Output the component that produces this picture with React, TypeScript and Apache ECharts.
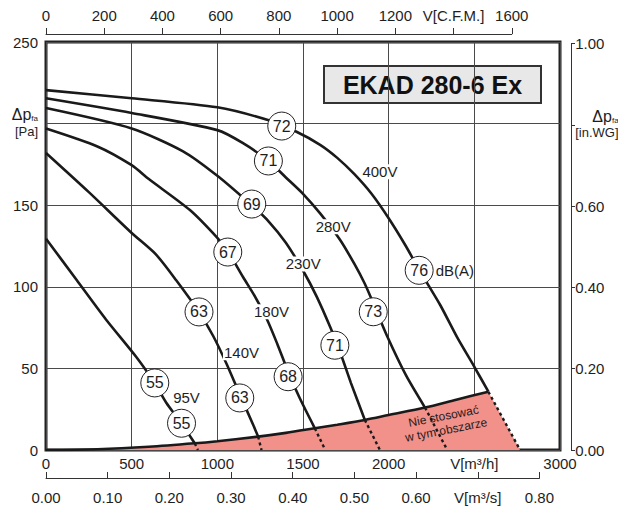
import React, { useEffect, useRef } from 'react';
import * as echarts from 'echarts';

// ---- Data (flow V in m3/h, pressure dp in Pa) ----
const curve400V = [[0, 220.5], [500, 215.5], [1000, 210], [1300, 202], [1462, 195], [1600, 187], [1700, 179], [1800, 169], [1900, 157], [2000, 142], [2100, 125], [2180, 110], [2300, 89], [2400, 69], [2500, 51], [2582, 35.7]];
const curve280V = [[0, 215.5], [500, 206.5], [1000, 196], [1150, 188], [1300, 177], [1400, 167], [1500, 157], [1600, 145], [1715, 129], [1800, 114], [1860, 102], [1910, 90], [1990, 70], [2100, 46], [2212, 26]];
const curve230V = [[0, 209.5], [500, 197], [800, 183], [1000, 168], [1200, 150], [1300, 140], [1400, 127], [1500, 110], [1580, 94], [1660, 75], [1720, 59], [1780, 41], [1861, 18.4]];
const curve180V = [[0, 197], [300, 186], [500, 174.5], [600, 166], [840, 147], [1000, 130], [1060, 122], [1150, 106], [1220, 94], [1290, 80], [1350, 65], [1413, 48], [1480, 32], [1569, 13.3]];
const curve140V = [[0, 182], [250, 158], [500, 133], [640, 120], [760, 104], [890, 85], [975, 70], [1053, 53], [1131, 34], [1209, 15.5], [1238, 8.2]];
const curve95V = [[0, 129.5], [180, 104], [350, 80], [527, 57], [634, 41], [702, 29], [790, 16.4], [868, 4.1]];

// dotted continuations (from limit curve down to zero pressure)
const dash400V = [[2582, 35.7], [2767, 0]];
const dash280V = [[2212, 26], [2342, 0]];
const dash230V = [[1861, 18.4], [1949, 0]];
const dash180V = [[1569, 13.3], [1630, 0]];
const dash140V = [[1238, 8.2], [1258, 0]];
const dash95V = [[868, 4.1], [887, 0]];

// limit curve ("do not use" region boundary)
const limitCurve = [[0, 0], [300, 0.5], [600, 2], [868, 4.1], [1000, 5.4], [1238, 8.2], [1400, 10.5], [1569, 13.3], [1700, 15.5], [1861, 18.4], [2000, 21.4], [2212, 26], [2400, 31], [2582, 35.7]];
const forbiddenCorner = [2767, 0];

// noise markers dB(A)
const noiseQ = [1376, 1298, 1201, 1061, 893, 635, 791, 1131, 1413, 1686, 1910, 2178];
const noiseP = [198.5, 177.1, 150.7, 121.3, 84.6, 41.1, 16.4, 31.9, 44.9, 64.2, 84.7, 110.1];
const noiseDb = ['72', '71', '69', '67', '63', '55', '55', '63', '68', '71', '73', '76'];

// voltage labels
const voltNames = ['400V', '280V', '230V', '180V', '140V', '95V'];
const voltQ = [1949, 1676, 1501, 1316, 1141, 820];
const voltP = [170.5, 136.8, 114, 84.7, 59.6, 32.3];

// axis ranges / ticks
const Q_MAX = 3000, Q_STEP = 500;
const P_MAX = 250, P_STEP = 50;
const CFM_MAX = 1600, CFM_STEP = 200;
const M3S_MAX = 0.8, M3S_STEP = 0.1;
const INWG_MAX = 1.0, INWG_STEP = 0.2;
const M3H_PER_CFM = 1.69901;
const PA_PER_INWG = 249.09;

const TITLE = 'EKAD 280-6 Ex';

export default function App() {
  const ref = useRef<HTMLDivElement>(null);
  useEffect(() => {
    if (!ref.current) return;
    const chart = echarts.init(ref.current, null, { renderer: 'svg' });
    const L = 46, T = 42, W = 514, H = 408;
    const font = 'Liberation Sans, Arial, Helvetica, sans-serif';
    const ink = '#1e1e1e';
    const lbl = { fontSize: 15, color: ink, fontFamily: font };

    const solid = (data: number[][], name: string) => ({
      type: 'line', name, data, xAxisIndex: 0, yAxisIndex: 0, symbol: 'none', smooth: 0.25,
      z: 3, lineStyle: { color: '#1a1a1a', width: 2.6 },
    });
    const dotted = (data: number[][]) => ({
      type: 'line', data, xAxisIndex: 0, yAxisIndex: 0, symbol: 'none', z: 3,
      lineStyle: { color: '#1a1a1a', width: 2.4, type: [3, 3] },
    });
    const textMarks = (data: any[], label: any) => ({
      type: 'scatter', xAxisIndex: 0, yAxisIndex: 0, z: 7, symbol: 'circle', symbolSize: 1,
      itemStyle: { color: 'rgba(0,0,0,0)', opacity: 1 },
      label: { show: true, color: ink, fontFamily: font, opacity: 1, ...label },
      data,
    });

    const option: any = {
      animation: false,
      textStyle: { fontFamily: font },
      grid: [
        { left: L, top: T, width: W, height: H, show: true, borderColor: '#222', borderWidth: 3, backgroundColor: 'transparent' },
        { left: 571, top: T + H * (1 - PA_PER_INWG / P_MAX), width: 1, height: H * PA_PER_INWG / P_MAX },
        { left: L, top: 33, width: W * (CFM_MAX * M3H_PER_CFM / Q_MAX), height: 1 },
        { left: L, top: 477, width: W * (M3S_MAX * 3600 / Q_MAX), height: 1 },
      ],
      xAxis: [
        {
          type: 'value', gridIndex: 0, min: 0, max: Q_MAX, interval: Q_STEP,
          axisLine: { show: false }, axisTick: { show: false },
          splitLine: { show: true, lineStyle: { color: '#4a4a4a', width: 1 } },
          axisLabel: { ...lbl, margin: 6, formatter: (v: number) => (v === 2500 ? 'V[m³/h]' : String(v)) },
        },
        { type: 'value', gridIndex: 1, show: false, min: 0, max: 1 },
        {
          type: 'value', gridIndex: 2, position: 'top', min: 0, max: CFM_MAX, interval: CFM_STEP,
          axisLine: { show: true, lineStyle: { color: '#333', width: 1 } },
          axisTick: { show: true, length: 6, lineStyle: { color: '#333' } },
          splitLine: { show: false },
          axisLabel: { ...lbl, margin: 10, formatter: (v: number) => (v === 1400 ? 'V[C.F.M.]' : String(v)) },
        },
        {
          type: 'value', gridIndex: 3, position: 'bottom', min: 0, max: M3S_MAX, interval: M3S_STEP,
          axisLine: { show: true, lineStyle: { color: '#333', width: 1 } },
          axisTick: { show: true, inside: true, length: 6, lineStyle: { color: '#333' } },
          splitLine: { show: false },
          axisLabel: { ...lbl, margin: 12, formatter: (v: number) => (Math.abs(v - 0.7) < 1e-6 ? 'V[m³/s]' : v.toFixed(2)) },
        },
      ],
      yAxis: [
        {
          type: 'value', gridIndex: 0, min: 0, max: P_MAX, interval: P_STEP,
          axisLine: { show: false }, axisTick: { show: false },
          splitLine: { show: true, lineStyle: { color: '#4a4a4a', width: 1 } },
          axisLabel: {
            ...lbl, margin: 8,
            formatter: (v: number) => (v === 200 ? '{a|Δp}{b|fa}\n{c|[Pa]}' : String(v)),
            rich: {
              a: { fontSize: 16, color: ink, fontFamily: font, align: 'right' },
              b: { fontSize: 8, color: ink, fontFamily: font, verticalAlign: 'bottom', padding: [6, 0, 0, 0] },
              c: { fontSize: 13, color: ink, fontFamily: font, lineHeight: 18, align: 'right' },
            },
          },
        },
        {
          type: 'value', gridIndex: 1, position: 'right', min: 0, max: INWG_MAX, interval: INWG_STEP,
          axisLine: { show: true, lineStyle: { color: '#333', width: 1 } },
          axisTick: { show: true, length: 4, lineStyle: { color: '#333' } },
          splitLine: { show: false },
          axisLabel: {
            ...lbl, margin: 4,
            formatter: (v: number) => (Math.abs(v - 0.8) < 1e-6 ? '{a|Δp}{b|fa}\n{c|[in.WG]}' : v.toFixed(2)),
            rich: {
              a: { fontSize: 16, color: ink, fontFamily: font, align: 'right' },
              b: { fontSize: 8, color: ink, fontFamily: font, verticalAlign: 'bottom', padding: [6, 0, 0, 0], align: 'right' },
              c: { fontSize: 13, color: ink, fontFamily: font, lineHeight: 16, align: 'right' },
            },
          },
        },
        { type: 'value', gridIndex: 2, show: false, min: 0, max: 1 },
        { type: 'value', gridIndex: 3, show: false, min: 0, max: 1 },
      ],
      series: [
        {
          type: 'line', data: [...limitCurve, forbiddenCorner], xAxisIndex: 0, yAxisIndex: 0,
          symbol: 'none', z: 1, lineStyle: { width: 0, opacity: 0 },
          areaStyle: { color: '#f2908a', opacity: 1 },
        },
        {
          type: 'line', data: limitCurve, xAxisIndex: 0, yAxisIndex: 0, symbol: 'none', smooth: 0.3, z: 3,
          lineStyle: { color: '#1a1a1a', width: 2.6 },
        },
        solid(curve400V, '400V'), solid(curve280V, '280V'), solid(curve230V, '230V'),
        solid(curve180V, '180V'), solid(curve140V, '140V'), solid(curve95V, '95V'),
        dotted(dash400V), dotted(dash280V), dotted(dash230V), dotted(dash180V), dotted(dash140V), dotted(dash95V),
        {
          type: 'scatter', xAxisIndex: 0, yAxisIndex: 0, z: 6, symbol: 'circle', symbolSize: 28,
          itemStyle: { color: '#fff', borderColor: '#222', borderWidth: 1, opacity: 1 },
          label: { show: true, position: 'inside', formatter: '{b}', fontSize: 16, color: ink, fontFamily: font },
          data: noiseQ.map((q, i) => ({ name: noiseDb[i], value: [q, noiseP[i]] })),
        },
        textMarks(voltNames.map((n, i) => ({ name: n, value: [voltQ[i], voltP[i]] })), {
          position: 'inside', formatter: '{b}', fontSize: 15, backgroundColor: '#fff', padding: [0, 1],
        }),
        textMarks([[2272, 110.1]], { position: 'right', distance: 0, formatter: 'dB(A)', fontSize: 15 }),
        textMarks([[2328, 16.5]], {
          position: 'inside', rotate: 11, formatter: 'Nie stosować\nw tym obszarze',
          fontSize: 12, lineHeight: 14, align: 'center',
        }),
      ],
      graphic: [
        {
          type: 'group', left: 323, top: 65, z: 20,
          children: [
            { type: 'rect', shape: { x: 0, y: 0, width: 217, height: 37 }, style: { fill: '#e8e8e8', stroke: '#333', lineWidth: 2 } },
            {
              type: 'text', x: 108.5, y: 19,
              style: { text: TITLE, fontSize: 25, fontWeight: 'bold', fill: '#111', fontFamily: font, textAlign: 'center', textVerticalAlign: 'middle' },
            },
          ],
        },
      ],
    };
    chart.setOption(option);
    return () => chart.dispose();
  }, []);
  return <div ref={ref} style={{ position: 'absolute', left: 0, top: 0, width: 618, height: 513, background: '#fff' }} />;
}
